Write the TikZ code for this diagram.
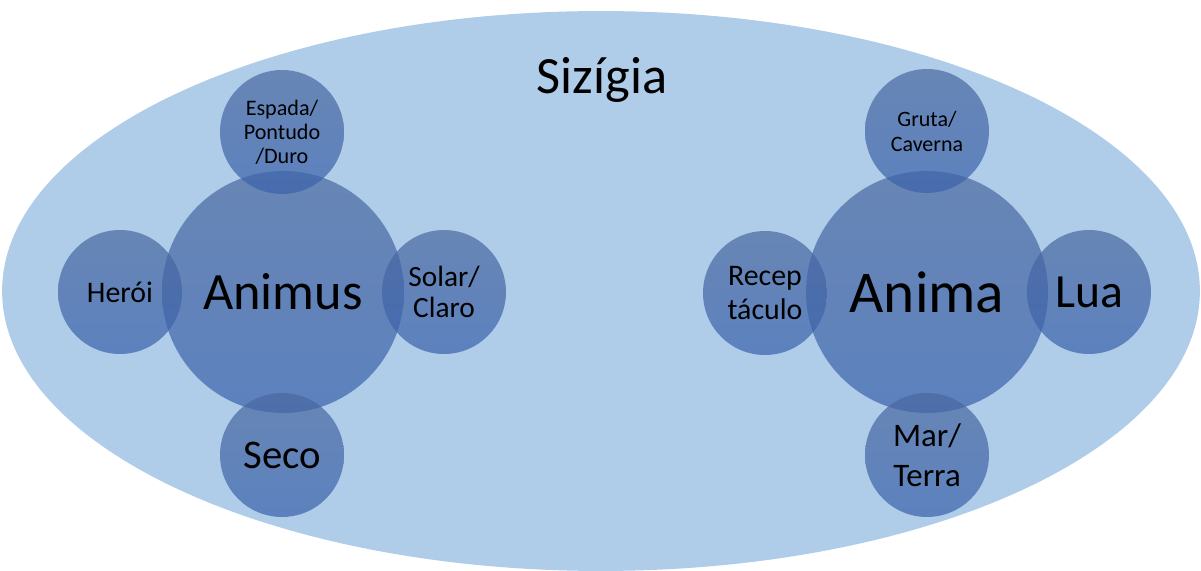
\documentclass[tikz,border=0pt]{standalone}
\usepackage{fontspec}
\setmainfont{Carlito}
\definecolor{bgell}{HTML}{AFCDE9}
\definecolor{circtop}{HTML}{4A68A0}
\definecolor{circbot}{HTML}{3A62AC}
\newcommand{\fs}[2]{\fontsize{#1}{#2}\selectfont}
\begin{document}
\begin{tikzpicture}[x=0.02cm,y=-0.02cm,
  orb/.style={circle, inner sep=0pt, top color=circtop, bottom color=circbot,
    fill opacity=0.7, text opacity=1, text=black, align=center, draw=none},
  bigorb/.style={orb, minimum size=4.84cm},
  smallorb/.style={orb, minimum size=2.48cm}]
\useasboundingbox (0,0) rectangle (1201,571);
\fill[bgell] (601,291) ellipse [x radius=11.98cm, y radius=5.6cm];
\node[font=\fs{29.8pt}{34pt}] (title) at (602,80) {Sizígia};
% left group
\node[bigorb, font=\fs{29.8pt}{34pt}] (animus) at (283,292) {Animus};
\node[smallorb, font=\fs{12.6pt}{13.6pt}] (espada) at (282,132) {Espada/\\Pontudo\\/Duro};
\node[smallorb, font=\fs{17pt}{19pt}] (heroi) at (120,292) {Herói};
\node[smallorb, font=\fs{16.7pt}{17.6pt}] (solar) at (444,292) {Solar/\\Claro};
\node[smallorb, font=\fs{23.2pt}{26pt}] (seco) at (282,455) {Seco};
% right group
\node[bigorb, font=\fs{33.7pt}{38pt}] (anima) at (927,292) {Anima};
\node[smallorb, font=\fs{12.5pt}{14.2pt}] (gruta) at (927,131) {Gruta/\\Caverna};
\node[smallorb, font=\fs{17pt}{19.8pt}] (recep) at (765,293) {Recep\\táculo};
\node[smallorb, font=\fs{27.1pt}{30pt}] (lua) at (1089,292) {Lua};
\node[smallorb, font=\fs{18.7pt}{22.7pt}] (mar) at (927,455) {Mar/\\Terra};
\end{tikzpicture}
\end{document}
